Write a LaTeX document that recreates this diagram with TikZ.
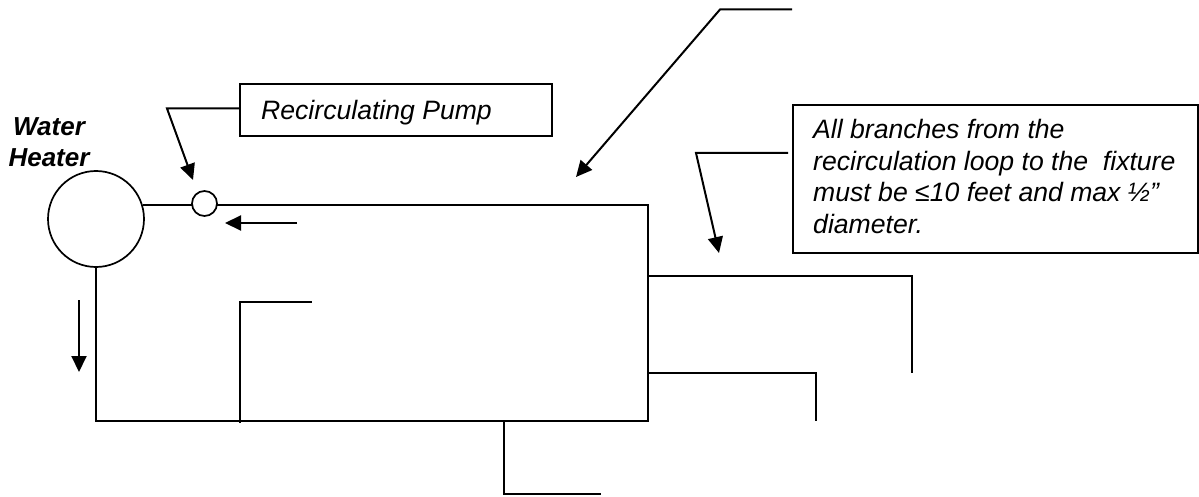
\documentclass[tikz,border=0pt]{standalone}
\usepackage{fontspec}
\setmainfont{Liberation Sans}
\usetikzlibrary{arrows.meta}
\tikzset{
  pipe/.style={draw=black,line width=2pt,line join=miter},
  lead/.style={draw=black,line width=2pt,-{Triangle[length=16pt,width=15pt]}},
  lbl/.style={font=\fontsize{26.6}{31.7}\selectfont\itshape,align=left,inner sep=0pt},
  callbox/.style={draw=black,line width=2pt,fill=white},
  vessel/.style={circle,draw=black,line width=1.7pt,inner sep=0pt}
}
\begin{document}
\begin{tikzpicture}[x=1pt,y=-1pt]
\useasboundingbox (0,0) rectangle (1199,497);
% coordinates
\coordinate (tr) at (648,205);
\coordinate (br) at (648,421);
\coordinate (bl) at (96,421);
\coordinate (b1a) at (240,423); \coordinate (b1b) at (240,302); \coordinate (b1c) at (312,302);
\coordinate (b2a) at (504,421); \coordinate (b2b) at (504,494); \coordinate (b2c) at (601,494);
\coordinate (b3a) at (648,373); \coordinate (b3b) at (816,373); \coordinate (b3c) at (816,421);
\coordinate (b4a) at (648,276); \coordinate (b4b) at (912,276); \coordinate (b4c) at (912,373);
\node[vessel,minimum size=96pt] (heater) at (96,219) {};
\node[vessel,minimum size=25pt] (pump) at (204.5,203.5) {};
\coordinate (hj) at (143,205); \coordinate (pl) at (192,205); \coordinate (pr) at (217,205);
\draw[pipe,line width=1.7pt] (hj) -- (pl);
\draw[pipe] (pr) -- (tr) -- (br) -- (bl) -- (heater.south);
\draw[pipe] (b1a) -- (b1b) -- (b1c);
\draw[pipe] (b2a) -- (b2b) -- (b2c);
\draw[pipe] (b3a) -- (b3b) -- (b3c);
\draw[pipe] (b4a) -- (b4b) -- (b4c);
% flow arrows
\coordinate (fa1) at (297,223); \coordinate (fa2) at (225,223);
\coordinate (fb1) at (79,300); \coordinate (fb2) at (79,372);
\draw[lead] (fa1) -- (fa2);
\draw[lead] (fb1) -- (fb2);
% top leader
\coordinate (t1) at (792,9.5); \coordinate (t2) at (720,9.5); \coordinate (t3) at (576,177);
\draw[lead] (t1) -- (t2) -- (t3);
% pump box
\node[callbox,minimum width=312pt,minimum height=52pt,inner sep=0pt] (pbox) at (396,110) {};
\node[lbl,anchor=base west] (ptext) at (261,120) {Recirculating Pump};
\coordinate (p1) at (167,108.5); \coordinate (p2) at (193,180); \coordinate (p0) at (240,108.5);
\draw[lead] (p0) -- (p1) -- (p2);
% branch box
\draw[callbox] (792.5,105) -- (792.5,253) -- (1198,253) -- (1198,105) -- cycle;
\coordinate (nboxw) at (788,153);
\node[lbl,anchor=base west] (ntext) at (813,233.5) {All branches from the\\recirculation loop to the\ \ fixture\\must be ≤10 feet and max ½”\\diameter.};
\coordinate (n1) at (696,153); \coordinate (n2) at (719,253);
\draw[lead] (nboxw) -- (n1) -- (n2);
% heater label
\node[font=\fontsize{26}{31.7}\selectfont\bfseries\itshape,align=center,inner sep=0pt,anchor=base] (hlabel) at (49,167) {Water\\Heater};
\end{tikzpicture}
\end{document}
